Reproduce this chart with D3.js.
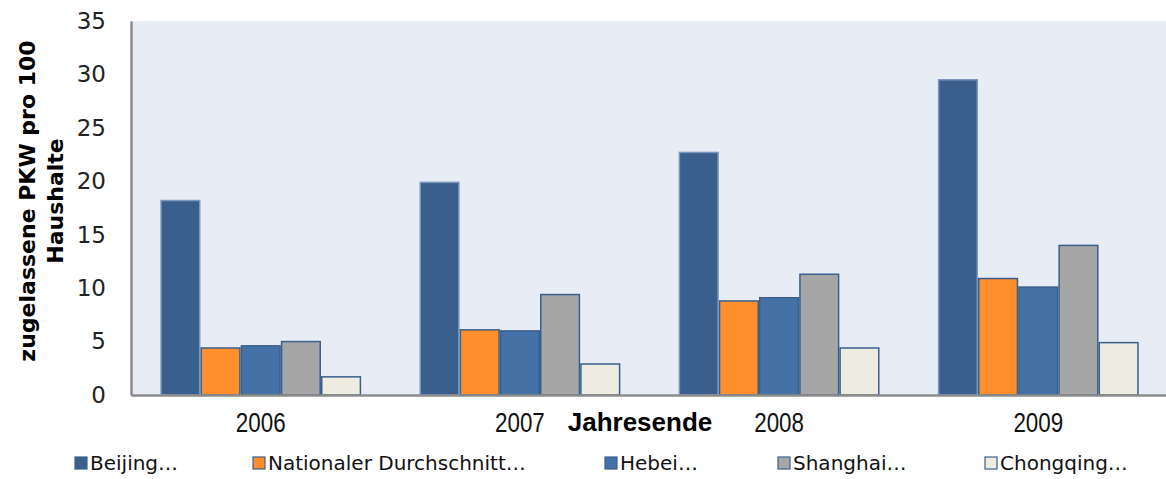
<!DOCTYPE html>
<html>
<head>
<meta charset="utf-8">
<script src="https://cdn.jsdelivr.net/npm/d3@7"></script>
<style>
  body { margin: 0; background: #fff; }
  svg { display: block; }
</style>
</head>
<body>
<svg width="1166" height="479"></svg>
<script>
const years = ["2006", "2007", "2008", "2009"];
const seriesNames = ["Beijing…", "Nationaler Durchschnitt…", "Hebei…", "Shanghai…", "Chongqing…"];
const beijing = [18.2, 19.9, 22.7, 29.5];
const national = [4.4, 6.1, 8.8, 10.9];
const hebei = [4.6, 6.0, 9.1, 10.1];
const shanghai = [5.0, 9.4, 11.3, 14.0];
const chongqing = [1.7, 2.9, 4.4, 4.9];
const yTicks = [0, 5, 10, 15, 20, 25, 30, 35];

const values = [beijing, national, hebei, shanghai, chongqing];
const fills = ["#3a5f8c", "#ff8f2c", "#4472a6", "#a6a6a6", "#eeece1"];
const strokes = ["#7b97bd", "#3a5f8c", "#3a5f8c", "#3a5f8c", "#3a5f8c"];

const plotLeft = 131, plotRight = 1168, plotTop = 21, plotBottom = 395;
const svg = d3.select("svg");

// Hintergrund der Zeichenfläche
svg.append("rect")
  .attr("x", plotLeft).attr("y", plotTop)
  .attr("width", plotRight - plotLeft).attr("height", plotBottom - plotTop)
  .attr("fill", "#e8edf5");

const x0 = d3.scaleBand().domain(years).range([plotLeft, plotRight]).paddingInner(0.225).paddingOuter(0.113);
const x1 = d3.scaleBand().domain(d3.range(seriesNames.length)).range([0, x0.bandwidth()]);
const y = d3.scaleLinear().domain([0, 35]).range([plotBottom, plotTop]);

// Balken
const groups = svg.append("g").selectAll("g")
  .data(years)
  .join("g")
  .attr("transform", d => `translate(${x0(d)},0)`);

groups.selectAll("rect")
  .data((d, i) => values.map((v, s) => ({ s, v: v[i] })))
  .join("rect")
  .attr("x", d => x1(d.s) + 0.75)
  .attr("y", d => y(d.v))
  .attr("width", x1.bandwidth() - 1.5)
  .attr("height", d => plotBottom - y(d.v))
  .attr("fill", d => fills[d.s])
  .attr("stroke", d => strokes[d.s])
  .attr("stroke-width", 1.5);

// y-Achse
const gy = svg.append("g")
  .attr("transform", `translate(${plotLeft},0)`)
  .call(d3.axisLeft(y).tickValues(yTicks).tickSize(0).tickPadding(25));
gy.select("path").attr("stroke", "#8c8c8c").attr("stroke-width", 2.5);
gy.selectAll("text")
  .attr("font-family", "'DejaVu Sans', sans-serif")
  .attr("font-size", 23)
  .attr("fill", "#222");

// x-Achse
const gx = svg.append("g")
  .attr("transform", `translate(0,${plotBottom})`)
  .call(d3.axisBottom(x0).tickSize(0).tickPadding(17));
gx.select("path").attr("stroke", "#8c8c8c").attr("stroke-width", 2.5);
gx.selectAll("text")
  .attr("font-family", "'Liberation Sans', Arial, sans-serif")
  .attr("font-size", 28)
  .attr("transform", "scale(0.8,1)")
  .attr("fill", "#111");

// Achsentitel
svg.append("text")
  .attr("x", 640).attr("y", 431)
  .attr("text-anchor", "middle")
  .attr("font-family", "'Liberation Sans', Arial, sans-serif")
  .attr("font-weight", "bold")
  .attr("font-size", 26)
  .text("Jahresende");

const yTitle = svg.append("text")
  .attr("transform", "translate(0,201) rotate(-90)")
  .attr("text-anchor", "middle")
  .attr("font-family", "'DejaVu Sans', sans-serif")
  .attr("font-weight", "bold")
  .attr("font-size", 22);
yTitle.append("tspan").attr("x", 0).attr("y", 35).text("zugelassene PKW pro 100");
yTitle.append("tspan").attr("x", 0).attr("y", 63).text("Haushalte");

// Legende
const legendX = [75, 253, 605, 778, 985];
const legend = svg.append("g").selectAll("g")
  .data(seriesNames)
  .join("g")
  .attr("transform", (d, i) => `translate(${legendX[i]},457)`);
legend.append("rect")
  .attr("width", 12).attr("height", 12)
  .attr("fill", (d, i) => fills[i])
  .attr("stroke", "#3a5f8c")
  .attr("stroke-width", 1.2);
legend.append("text")
  .attr("x", 15).attr("y", 13)
  .attr("font-family", "'DejaVu Sans', sans-serif")
  .attr("font-size", 20)
  .attr("fill", "#111")
  .text(d => d);
</script>
</body>
</html>
